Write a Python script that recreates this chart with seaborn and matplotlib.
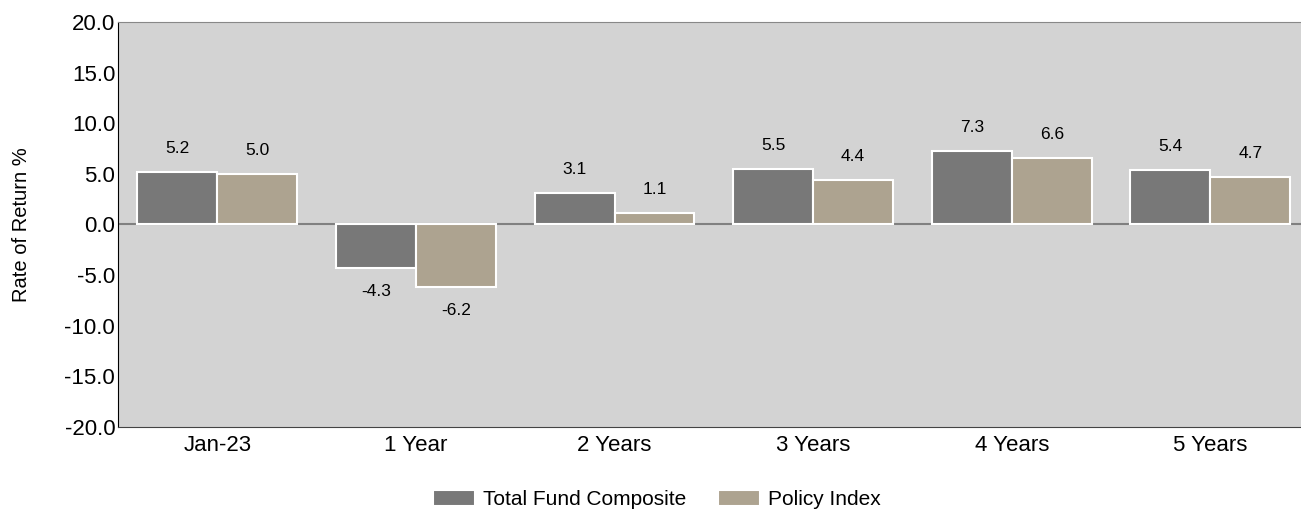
import pandas as pd
import matplotlib.pyplot as plt
import seaborn as sns

periods = ['Jan-23', '1 Year', '2 Years', '3 Years', '4 Years', '5 Years']
total_fund = [5.2, -4.3, 3.1, 5.5, 7.3, 5.4]
policy_index = [5.0, -6.2, 1.1, 4.4, 6.6, 4.7]
series_names = ['Total Fund Composite', 'Policy Index']
colors = ['#787878', '#ADA390']

df = pd.DataFrame({
    'period': periods * 2,
    'value': total_fund + policy_index,
    'series': [series_names[0]] * len(periods) + [series_names[1]] * len(periods),
})

sns.set_style('white')
plt.rcParams['font.family'] = ['Liberation Sans', 'DejaVu Sans']
plt.rcParams['text.color'] = 'black'
plt.rcParams['xtick.color'] = 'black'
plt.rcParams['ytick.color'] = 'black'
plt.rcParams['axes.labelcolor'] = 'black'

fig = plt.figure(figsize=(13.01, 5.13), dpi=100)
ax = fig.add_axes([0.0907, 0.168, 0.916, 0.789])
ax.set_facecolor('#D3D3D3')

sns.barplot(data=df, x='period', y='value', hue='series', palette=colors,
            order=periods, hue_order=series_names, width=0.805,
            edgecolor='white', linewidth=1.5, saturation=1, ax=ax)

ax.axhline(0, color='#808080', linewidth=1.5, zorder=0.5)

# value labels above / below each bar
for cont in ax.containers:
    labels = [f'{v:.1f}' for v in cont.datavalues]
    ax.bar_label(cont, labels=labels, padding=11.5, fontsize=12.5, color='black')

ax.set_ylim(-20, 20)
ax.set_yticks(range(-20, 21, 5))
ax.set_yticklabels([f'{v:.1f}' for v in range(-20, 21, 5)], fontsize=16)
ax.tick_params(axis='x', labelsize=16, length=0, pad=6)
ax.tick_params(axis='y', length=0, pad=2)
ax.set_xlabel('')
ax.set_ylabel('Rate of Return %', fontsize=14.5, labelpad=24)
ax.set_xlim(-0.5, 5.5)

for side in ['left', 'bottom', 'top']:
    ax.spines[side].set_visible(True)
ax.spines['left'].set_color('black')
ax.spines['bottom'].set_color('#444444')
ax.spines['top'].set_color('#888888')
ax.spines['right'].set_visible(False)

handles, lbls = ax.get_legend_handles_labels()
ax.get_legend().remove()
fig.legend(handles, lbls, loc='center', bbox_to_anchor=(0.505, 0.026), ncol=2,
           frameon=False, handlelength=2.0, handleheight=0.8, handletextpad=0.4,
           columnspacing=1.5, prop={'size': 15})

fig.savefig('out.png', dpi=100)
